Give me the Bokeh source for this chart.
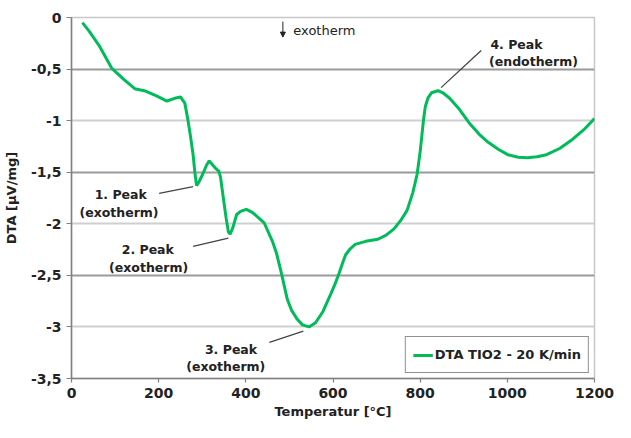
from bokeh.plotting import figure
from bokeh.models import Range1d, FixedTicker, Grid, Arrow, NormalHead, Legend, LegendItem
from bokeh.core.properties import value
from bokeh.embed import file_html
from bokeh.resources import INLINE

# DTA curve (temperature in °C, signal in µV/mg)
temperature = [25, 40, 63, 92, 120, 145, 167, 195, 219, 240, 250, 260, 267, 273, 279, 283,
               287, 293, 301, 310, 316, 322, 330, 338, 342, 349, 355, 360, 364, 370, 379,
               388, 401, 415, 442, 461, 470, 480, 495, 505, 517, 530, 545, 560, 577, 595,
               605, 614, 622, 629, 640, 651, 675, 703, 722, 740, 755, 770, 783, 793, 800,
               804, 808, 812, 818, 826, 841, 852, 867, 890, 912, 935, 956, 980, 1001, 1025,
               1046, 1068, 1090, 1120, 1150, 1175, 1200]
dta = [-0.05, -0.13, -0.27, -0.49, -0.60, -0.69, -0.71, -0.76, -0.81, -0.78, -0.77, -0.83,
       -0.99, -1.15, -1.33, -1.50, -1.63, -1.59, -1.52, -1.43, -1.39, -1.42, -1.46, -1.49,
       -1.55, -1.77, -1.95, -2.08, -2.10, -2.04, -1.91, -1.88, -1.86, -1.89, -1.99, -2.17,
       -2.28, -2.45, -2.73, -2.84, -2.92, -2.98, -3.00, -2.96, -2.85, -2.68, -2.58, -2.48,
       -2.38, -2.30, -2.24, -2.20, -2.17, -2.15, -2.11, -2.05, -1.97, -1.87, -1.70, -1.52,
       -1.30, -1.14, -0.98, -0.86, -0.78, -0.73, -0.71, -0.73, -0.78, -0.89, -1.02, -1.13,
       -1.21, -1.28, -1.33, -1.355, -1.36, -1.35, -1.33, -1.27, -1.18, -1.09, -0.98]

x_ticks = [0, 200, 400, 600, 800, 1000, 1200]
y_ticks = [0, -0.5, -1, -1.5, -2, -2.5, -3, -3.5]
y_tick_labels = ["0", "-0,5", "-1", "-1,5", "-2", "-2,5", "-3", "-3,5"]
grid_dark = [-0.5, -1.5, -2.5]
grid_light = [-1, -2, -3]

# peak annotations
label_x = [113, 109, 175, 177, 366, 354, 1021, 1060]
label_y = [-1.72, -1.89, -2.25, -2.42, -3.22, -3.38, -0.257, -0.43]
label_text = ["1. Peak", "(exotherm)", "2. Peak", "(exotherm)", "3. Peak", "(exotherm)",
              "4. Peak", "(endotherm)"]
leader_x0 = [201, 279, 454, 940]
leader_y0 = [-1.706, -2.22, -3.15, -0.32]
leader_x1 = [279, 360, 532, 848]
leader_y1 = [-1.64, -2.14, -3.04, -0.68]

note_x = [509]
note_y = [-0.13]
note_text = ["exotherm"]
arrow_x = 485
arrow_y = (-0.04, -0.19)

series_name = "DTA TIO2 - 20 K/min"
green = "#00BB5A"
font = "DejaVu Sans"
ink = "#222222"

p = figure(width=615, height=422, output_backend="svg", toolbar_location=None,
           min_border_left=70, min_border_right=21, min_border_top=17, min_border_bottom=44,
           x_axis_label="Temperatur [°C]", y_axis_label="DTA [µV/mg]")
p.x_range = Range1d(0, 1200)
p.y_range = Range1d(-3.5, 0)
p.outline_line_color = "#c8c8c8"
p.outline_line_width = 1.5

# grid: alternating darker and lighter lines
p.xgrid.visible = False
p.ygrid.ticker = FixedTicker(ticks=grid_dark)
p.ygrid.grid_line_color = "#9a9a9a"
p.ygrid.grid_line_width = 2
p.add_layout(Grid(dimension=1, ticker=FixedTicker(ticks=grid_light),
                  grid_line_color="#cfcfcf", grid_line_width=2))

for ax in (p.xaxis[0], p.yaxis[0]):
    ax.axis_line_color = "#808080"
    ax.axis_line_width = 1.5
    ax.major_tick_line_color = "#808080"
    ax.major_tick_line_width = 1.2
    ax.major_tick_in = 0
    ax.minor_tick_line_color = None
    ax.major_label_text_font = font
    ax.major_label_text_font_style = "bold"
    ax.major_label_text_font_size = "14px"
    ax.major_label_text_color = ink
    ax.axis_label_text_font = font
    ax.axis_label_text_font_style = "bold"
    ax.axis_label_text_font_size = "13px"
    ax.axis_label_text_color = ink

p.xaxis.ticker = FixedTicker(ticks=x_ticks)
p.xaxis.major_tick_out = 4
p.xaxis.major_label_standoff = 5
p.xaxis.axis_label_standoff = 3
p.yaxis.ticker = FixedTicker(ticks=y_ticks)
p.yaxis.major_label_overrides = dict(zip(y_ticks, y_tick_labels))
p.yaxis.major_tick_out = 5
p.yaxis.major_label_standoff = 5
p.yaxis.axis_label_standoff = 9

curve = p.line(temperature, dta, line_color=green, line_width=3)

# leader lines and labels
p.segment(leader_x0, leader_y0, leader_x1, leader_y1, line_color="#444444", line_width=1.3)
p.text(label_x, label_y, text=label_text, text_font=value(font), text_font_style="bold",
       text_font_size="12.5px", text_align="center", text_baseline="middle", text_color=ink)
p.text(note_x, note_y, text=note_text, text_font=value(font), text_font_size="13px",
       text_align="left", text_baseline="middle", text_color=ink)
p.add_layout(Arrow(x_start=arrow_x, y_start=arrow_y[0], x_end=arrow_x, y_end=arrow_y[1],
                   line_color=ink, line_width=1,
                   end=NormalHead(size=5, fill_color=ink, line_color=ink)))

legend = Legend(items=[LegendItem(label=series_name, renderers=[curve])],
                location="bottom_right", margin=5, padding=7, spacing=0,
                glyph_width=20, label_standoff=2, label_height=21,
                border_line_color=ink, border_line_width=1.5,
                label_text_font=font, label_text_font_style="bold",
                label_text_font_size="13px", label_text_color=ink,
                background_fill_alpha=1)
p.add_layout(legend)

open("out.html", "w").write(file_html(p, INLINE))
